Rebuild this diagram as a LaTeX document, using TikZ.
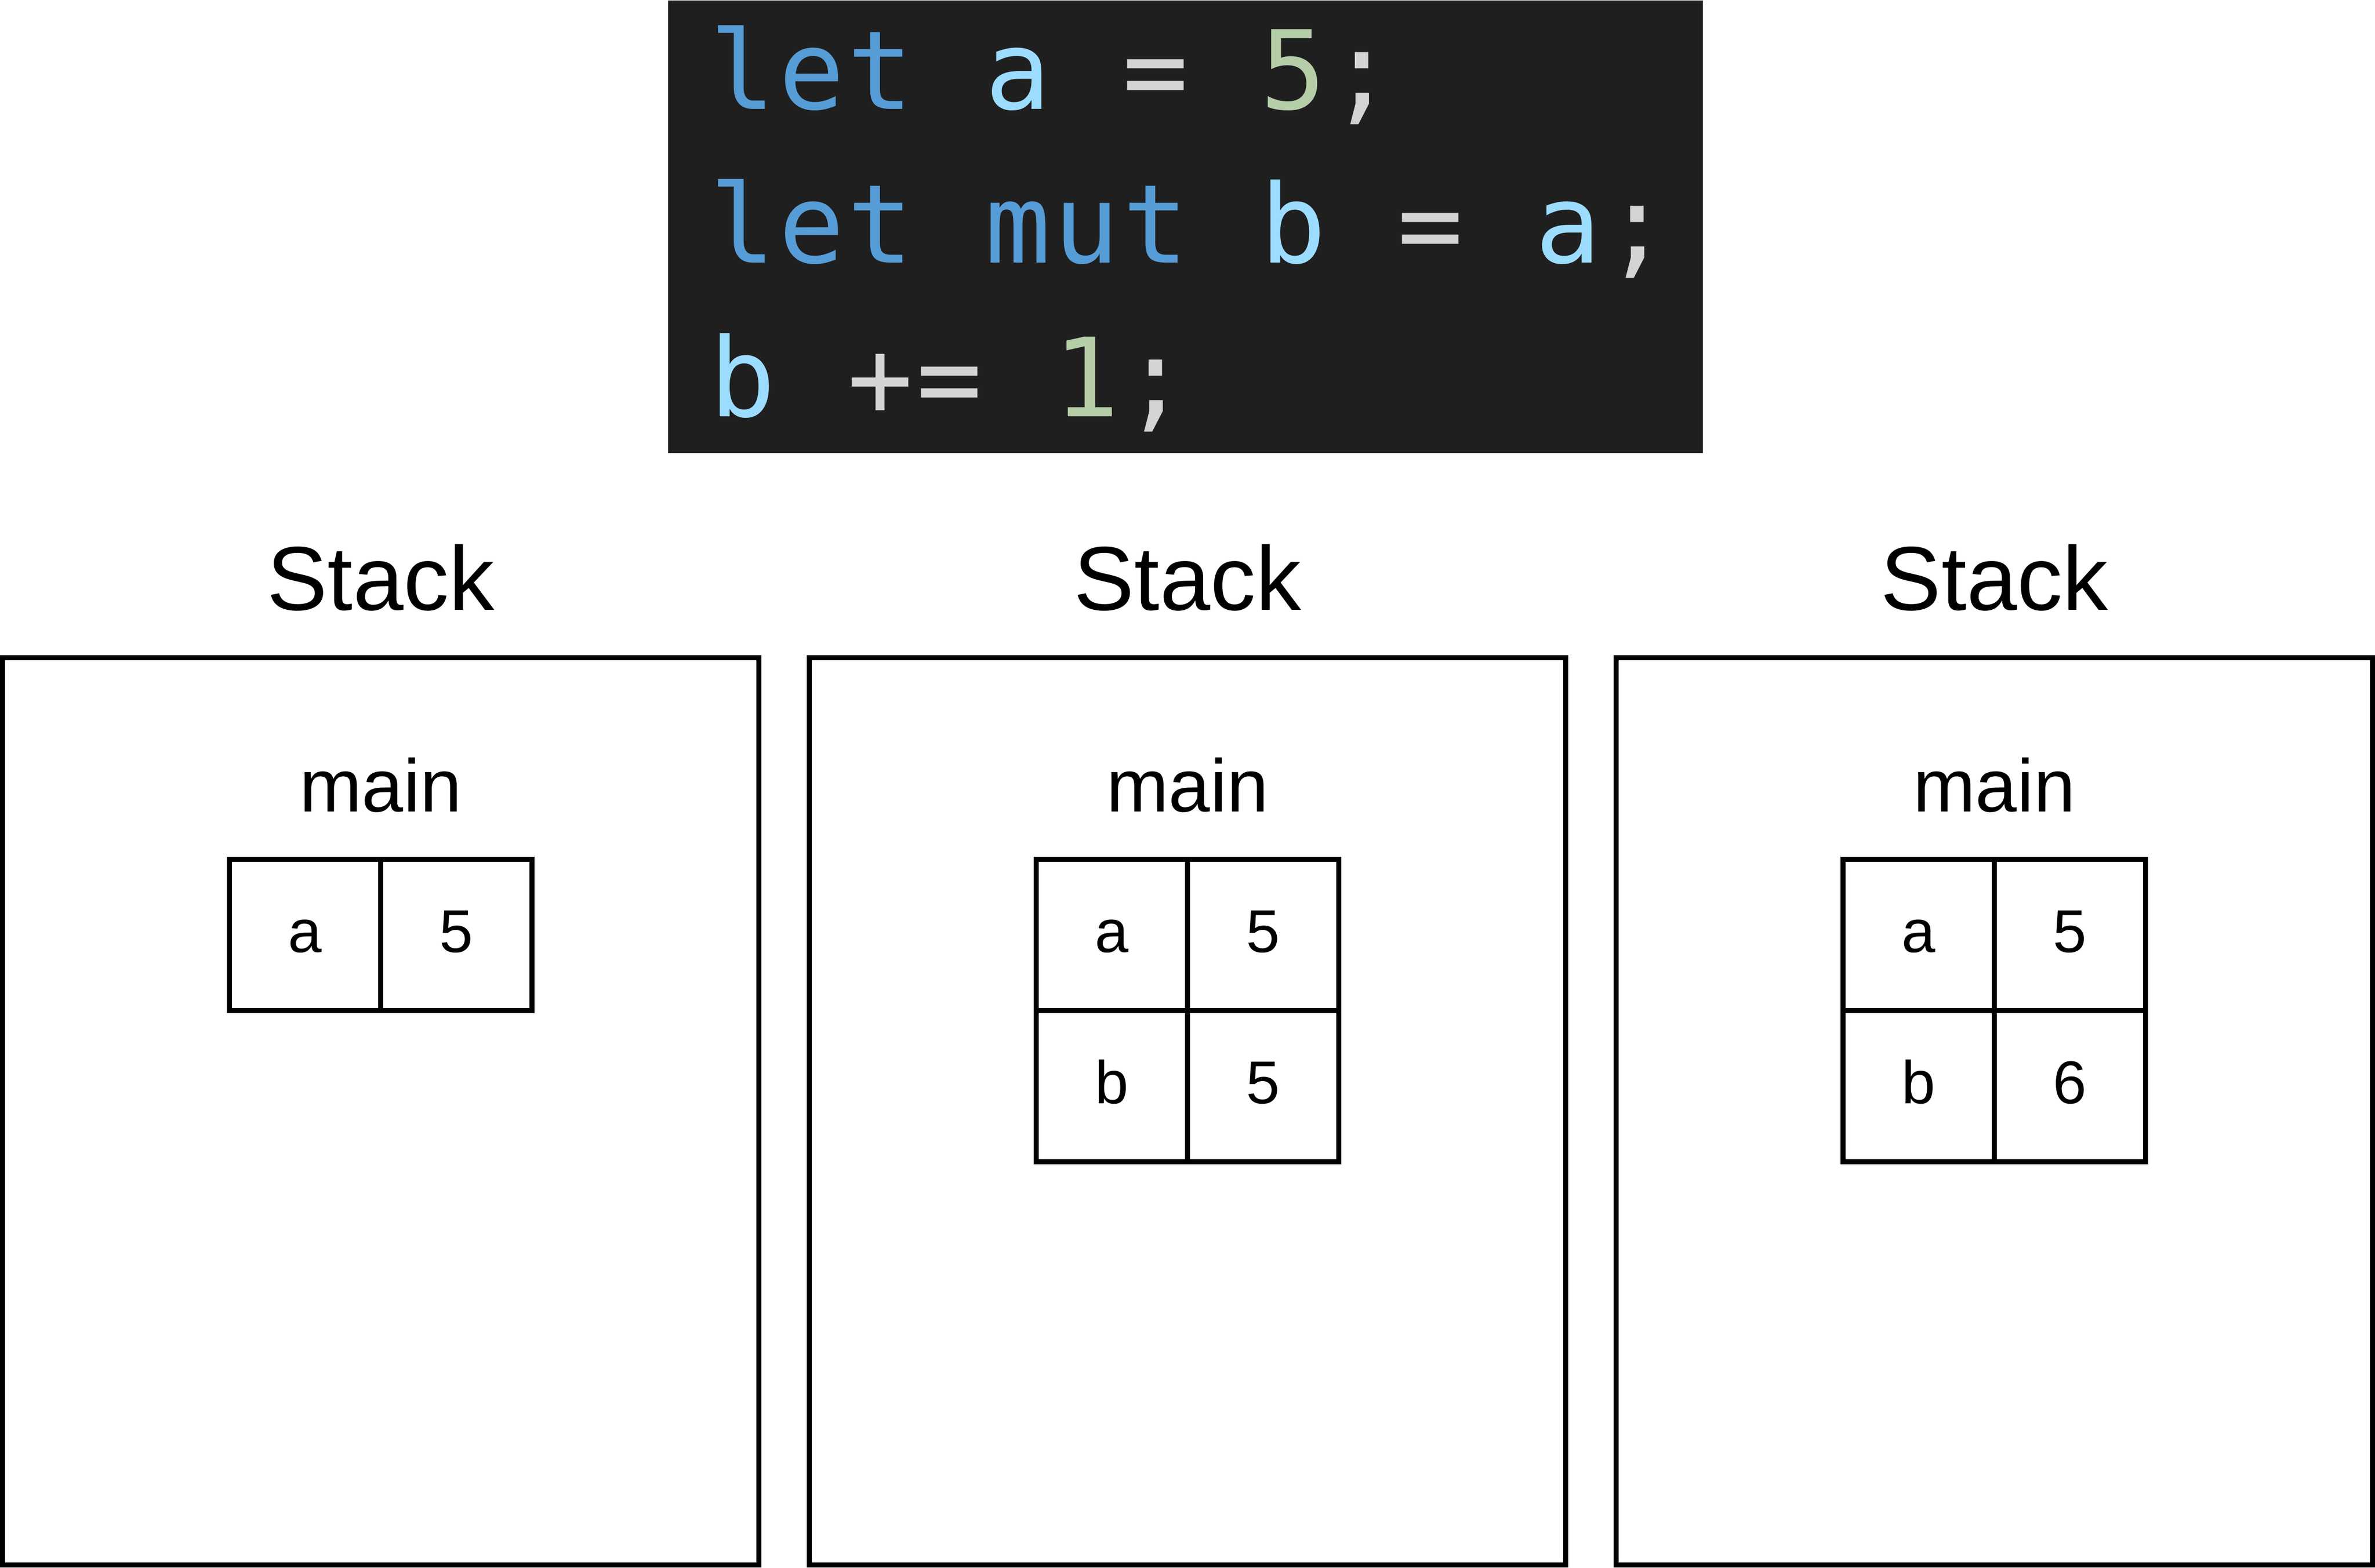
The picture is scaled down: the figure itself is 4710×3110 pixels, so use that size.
\documentclass[tikz,border=0pt]{standalone}
\usepackage{fontspec}
\setmainfont{Liberation Sans}
\newfontfamily\codefont{DejaVu Sans Mono}
\newcommand\codesetup{\codefont\fontsize{43.4pt}{52pt}\selectfont}
\newcommand\CH[2]{\makebox[27.28pt][c]{\textcolor{#1}{#2}}}
\newcommand\SP{\hspace*{27.28pt}}
\definecolor{codebg}{HTML}{1F1F1F}
\definecolor{kw}{HTML}{569CD6}
\definecolor{ident}{HTML}{9CDCFE}
\definecolor{num}{HTML}{B5CEA8}
\definecolor{op}{HTML}{D4D4D4}
\begin{document}
\begin{tikzpicture}[x=0.2pt,y=-0.2pt,
  stackbox/.style={draw=black, line width=2pt, minimum width=300pt, minimum height=360pt, inner sep=0pt},
  title/.style={anchor=base, inner sep=0pt, font=\fontsize{36pt}{42pt}\selectfont},
  fname/.style={anchor=base, inner sep=0pt, font=\fontsize{29.6pt}{34pt}\selectfont},
  cell/.style={draw=black, line width=2pt, minimum width=60pt, minimum height=60pt, inner sep=0pt,
    text height=14pt, text depth=0.4pt, font=\fontsize{24pt}{28pt}\selectfont},
  codeline/.style={anchor=base west, inner sep=0pt, font=\codesetup}]
\useasboundingbox (0,0) rectangle (4710,3110);
% code block
\node[fill=codebg, inner sep=0pt, minimum width=410.4pt, minimum height=179.6pt, anchor=north west] (code) at (1324,0) {};
\node[codeline] (l1) at (1404,216) {\CH{kw}{l}\CH{kw}{e}\CH{kw}{t}\SP\CH{ident}{a}\SP\CH{op}{=}\SP\CH{num}{5}\CH{op}{;}};
\node[codeline] (l2) at (1404,521) {\CH{kw}{l}\CH{kw}{e}\CH{kw}{t}\SP\CH{kw}{m}\CH{kw}{u}\CH{kw}{t}\SP\CH{ident}{b}\SP\CH{op}{=}\SP\CH{ident}{a}\CH{op}{;}};
\node[codeline] (l3) at (1404,826) {\CH{ident}{b}\SP\CH{op}{+}\CH{op}{=}\SP\CH{num}{1}\CH{op}{;}};
% stacks
\foreach \i/\cx in {1/755,2/2355,3/3955}{
  \node[title] (t\i) at (\cx,1210) {Stack};
  \node[stackbox] (s\i) at (\cx,2205) {};
  \node[fname] (m\i) at (\cx,1610) {main};
}
% stack 1
\node[cell] (s1aa) at (605,1855) {a};
\node[cell] (s1av) at (905,1855) {5};
% stack 2
\node[cell] (s2aa) at (2205,1855) {a};
\node[cell] (s2av) at (2505,1855) {5};
\node[cell] (s2ba) at (2205,2155) {b};
\node[cell] (s2bv) at (2505,2155) {5};
% stack 3
\node[cell] (s3aa) at (3805,1855) {a};
\node[cell] (s3av) at (4105,1855) {5};
\node[cell] (s3ba) at (3805,2155) {b};
\node[cell] (s3bv) at (4105,2155) {6};
\end{tikzpicture}
\end{document}
